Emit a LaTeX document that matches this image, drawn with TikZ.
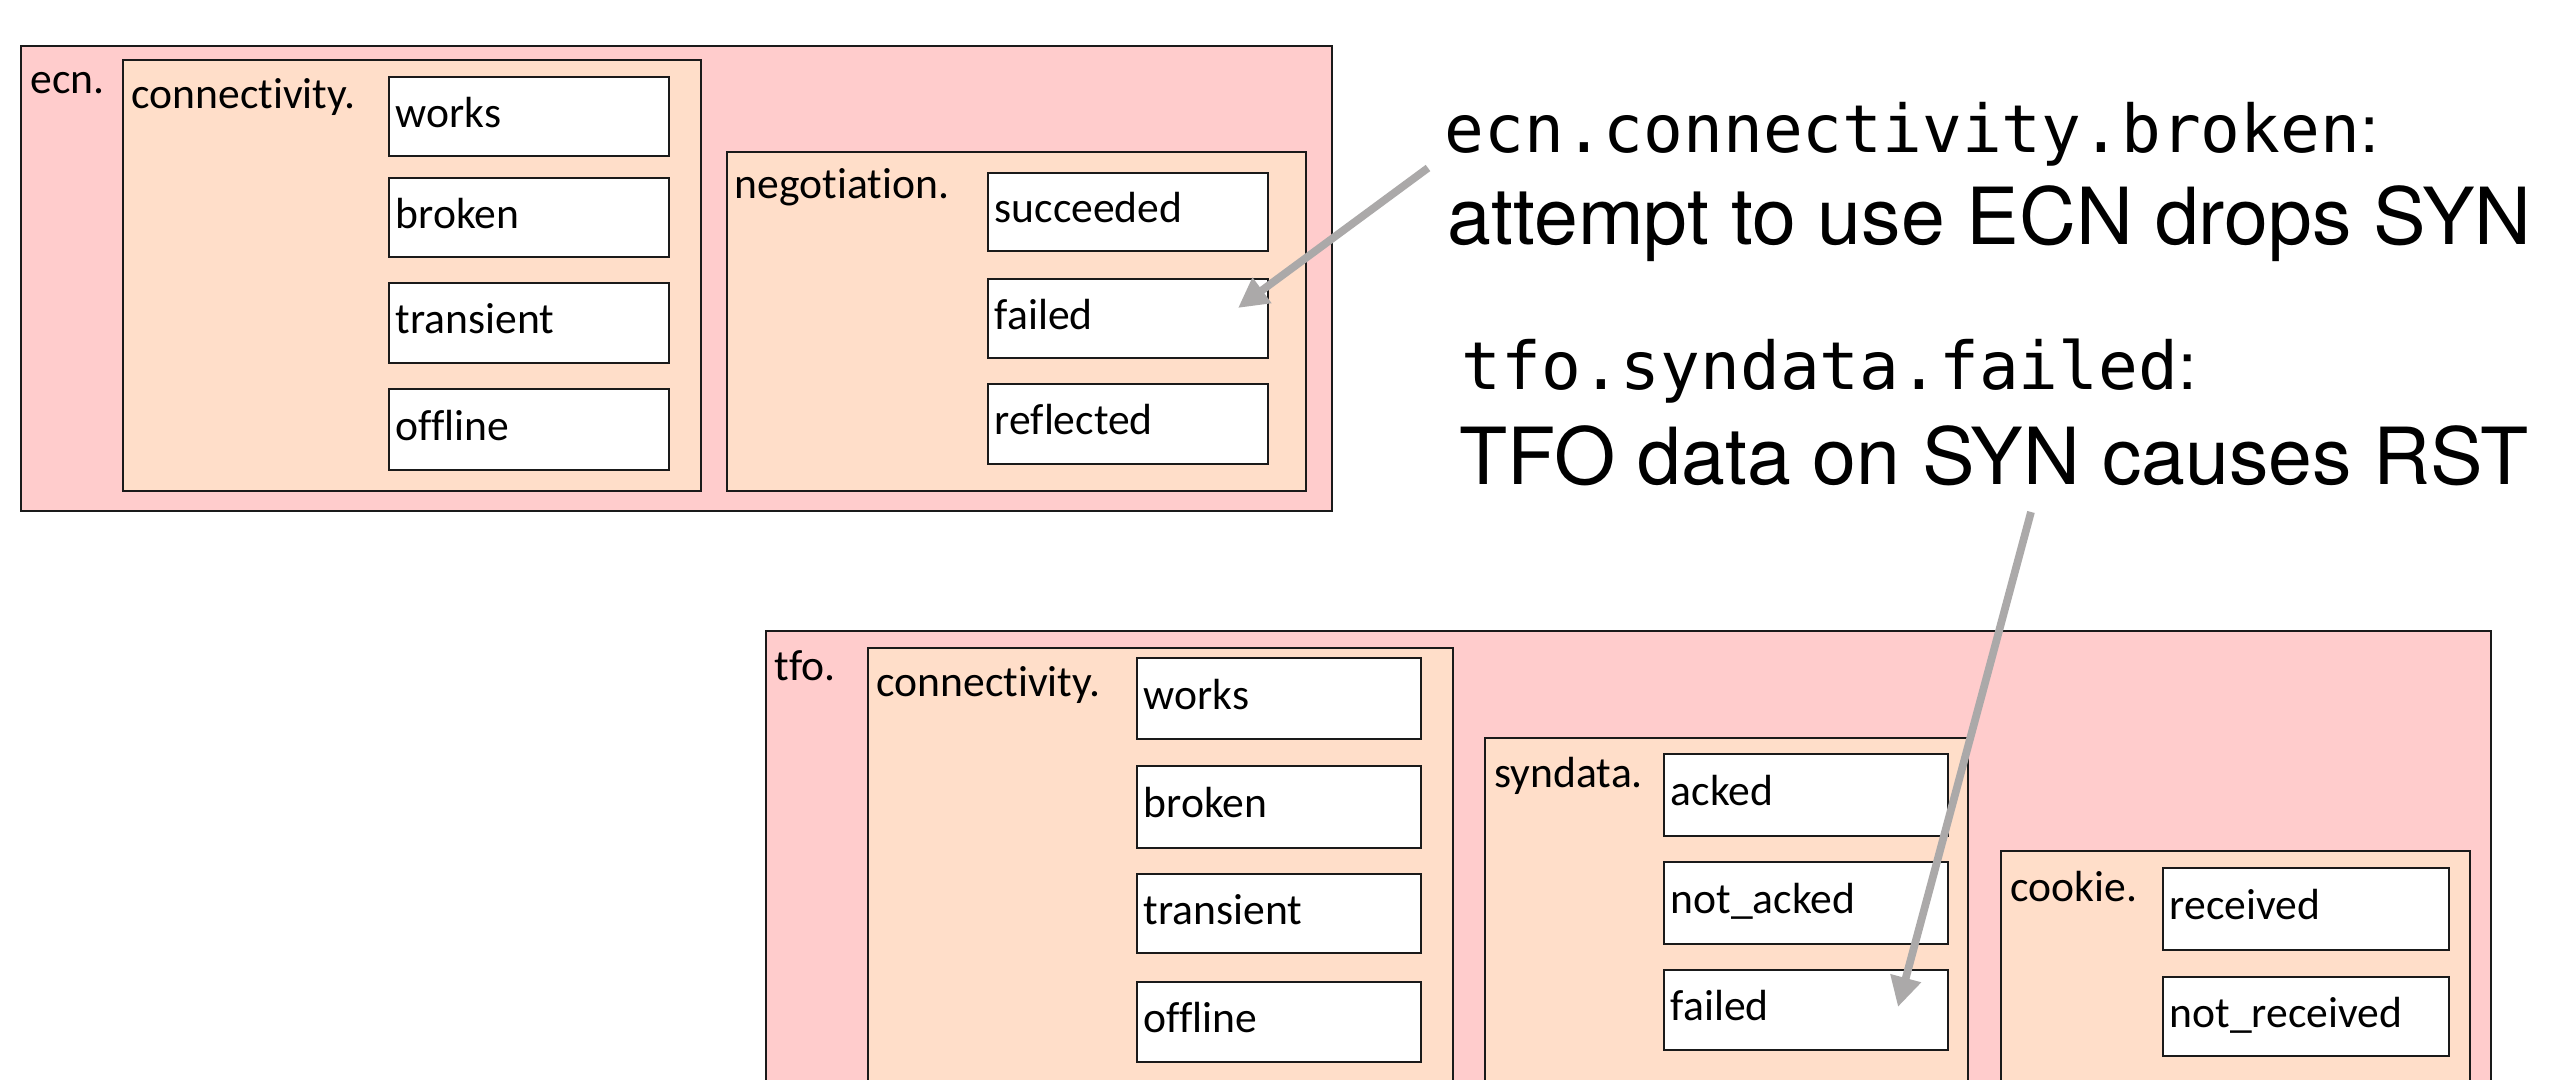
\documentclass[tikz,border=0pt]{standalone}
\usepackage{fontspec}
\setmainfont{Carlito}[Ligatures=NoCommon]
\newfontfamily\annofont{TeX Gyre Heros}
\newfontfamily\codefont{DejaVu Sans Mono}
\usetikzlibrary{arrows.meta,fit,calc}

\definecolor{grouppink}{HTML}{FFCCCC}
\definecolor{grouppeach}{HTML}{FFDEC9}
\definecolor{arrowgray}{HTML}{ABA9A9}
\definecolor{edgeink}{HTML}{1A1A1A}

\begin{document}
\begin{tikzpicture}[x=0.01cm, y=-0.01cm,
  outerbox/.style={draw=edgeink, line width=0.6pt, fill=grouppink, inner sep=0pt},
  innerbox/.style={draw=edgeink, line width=0.6pt, fill=grouppeach, inner sep=0pt},
  leafbox/.style={draw=edgeink, line width=0.6pt, fill=white, inner sep=0pt},
  grouplabel/.style={anchor=base west, inner sep=0pt, font=\fontsize{12.4}{14}\selectfont},
  leaflabel/.style={anchor=west, inner xsep=2pt, inner ysep=0pt,
    text height=9pt, text depth=2.8pt, font=\fontsize{12.4}{14}\selectfont},
  codeline/.style={anchor=base west, inner sep=0pt, font=\fontsize{18.8}{22}\selectfont\codefont},
  proseline/.style={anchor=base west, inner sep=0pt, font=\fontsize{22.4}{26}\selectfont\annofont},
  callout/.style={draw=arrowgray, line width=2.2pt, -{Triangle[length=8.5pt,width=8.5pt]}}
]
\path[use as bounding box, fill=white] (0,0) rectangle (2559,1080);
\clip (0,0) rectangle (2559,1080);

% ---------- ecn. ----------
\node[outerbox, fit={(21,46) (1332,511)}] (ecn) {};
\node[grouplabel] (ecnlbl) at ($(ecn.north west)+(10,49)$) {ecn.};

\node[innerbox, fit={(123,60) (701,491)}] (ecnconn) {};
\node[grouplabel] (ecnconnlbl) at ($(ecnconn.north west)+(9,50)$) {connectivity.};
\node[leafbox, fit={(389,77) (669,156)}] (ecnworks) {};
\node[leaflabel] (ecnworkst) at (ecnworks.west) {works};
\node[leafbox, fit={(389,178) (669,257)}] (ecnbroken) {};
\node[leaflabel] (ecnbrokent) at (ecnbroken.west) {broken};
\node[leafbox, fit={(389,283) (669,363)}] (ecntrans) {};
\node[leaflabel] (ecntranst) at (ecntrans.west) {transient};
\node[leafbox, fit={(389,389) (669,470)}] (ecnoff) {};
\node[leaflabel] (ecnofft) at (ecnoff.west) {offline};

\node[innerbox, fit={(727,152) (1306,491)}] (ecnneg) {};
\node[grouplabel] (ecnneglbl) at ($(ecnneg.north west)+(8,48)$) {negotiation.};
\node[leafbox, fit={(988,173) (1268,251)}] (ecnsucc) {};
\node[leaflabel] (ecnsucct) at (ecnsucc.west) {succeeded};
\node[leafbox, fit={(988,279) (1268,358)}] (ecnfail) {};
\node[leaflabel] (ecnfailt) at (ecnfail.west) {failed};
\node[leafbox, fit={(988,384) (1268,464)}] (ecnrefl) {};
\node[leaflabel] (ecnreflt) at (ecnrefl.west) {reflected};

% ---------- tfo. ----------
\node[outerbox, fit={(766,631) (2491,1120)}] (tfo) {};
\node[grouplabel] (tfolbl) at ($(tfo.north west)+(9,51)$) {tfo.};

\node[innerbox, fit={(868,648) (1453,1120)}] (tfoconn) {};
\node[grouplabel] (tfoconnlbl) at ($(tfoconn.north west)+(9,50)$) {connectivity.};
\node[leafbox, fit={(1137,658) (1421,739)}] (tfoworks) {};
\node[leaflabel] (tfoworkst) at (tfoworks.west) {works};
\node[leafbox, fit={(1137,766) (1421,848)}] (tfobroken) {};
\node[leaflabel] (tfobrokent) at (tfobroken.west) {broken};
\node[leafbox, fit={(1137,874) (1421,953)}] (tfotrans) {};
\node[leaflabel] (tfotranst) at (tfotrans.west) {transient};
\node[leafbox, fit={(1137,982) (1421,1062)}] (tfooff) {};
\node[leaflabel] (tfoofft) at (tfooff.west) {offline};

\node[innerbox, fit={(1485,738) (1968,1120)}] (tfosyn) {};
\node[grouplabel] (tfosynlbl) at ($(tfosyn.north west)+(10,51)$) {syndata.};
\node[leafbox, fit={(1664,754) (1948,836)}] (tfoacked) {};
\node[leaflabel] (tfoackedt) at (tfoacked.west) {acked};
\node[leafbox, fit={(1664,862) (1948,944)}] (tfonack) {};
\node[leaflabel] (tfonackt) at (tfonack.west) {not\_acked};
\node[leafbox, fit={(1664,970) (1948,1050)}] (tfofail) {};
\node[leaflabel] (tfofailt) at (tfofail.west) {failed};

\node[innerbox, fit={(2001,851) (2470,1120)}] (tfocookie) {};
\node[grouplabel] (tfocookielbl) at ($(tfocookie.north west)+(10,52)$) {cookie.};
\node[leafbox, fit={(2163,868) (2449,950)}] (tforecv) {};
\node[leaflabel] (tforecvt) at (tforecv.west) {received};
\node[leafbox, fit={(2163,977) (2449,1056)}] (tfonrecv) {};
\node[leaflabel] (tfonrecvt) at (tfonrecv.west) {not\_received};

% ---------- annotations ----------
\node[codeline] (noteecncode) at (1444,153) {ecn.connectivity.broken{\annofont :}};
\node[proseline] (noteecntext) at (1447,245) {attempt to use ECN drops SYN};
\node[codeline] (notetfocode) at (1461,390) {tfo.syndata.failed{\annofont :}};
\node[proseline] (notetfotext) at (1459,485) {TFO data on SYN causes RST};

% ---------- callout arrows ----------
\coordinate (calloutecn) at (1428,168);
\coordinate (tipecn) at (1238,308);
\coordinate (callouttfo) at (2031,512);
\coordinate (tiptfo) at (1898,1007);
\draw[callout] (calloutecn) -- (tipecn);
\draw[callout] (callouttfo) -- (tiptfo);
\end{tikzpicture}
\end{document}
